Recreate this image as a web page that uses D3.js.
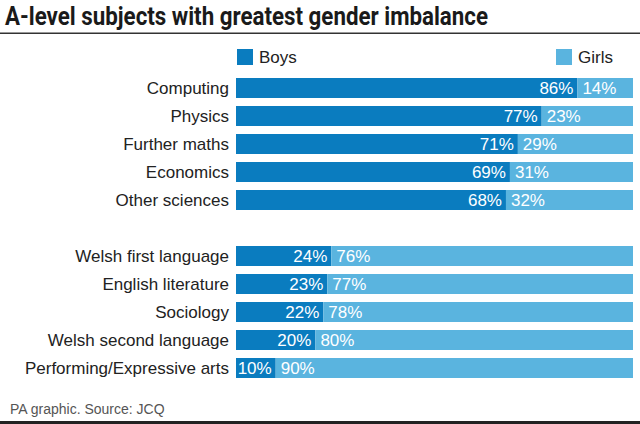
<!DOCTYPE html>
<html>
<head>
<meta charset="utf-8">
<script src="https://cdn.jsdelivr.net/npm/d3@7"></script>
<style>
  html, body { margin: 0; padding: 0; background: #fff; }
  svg { display: block; }
  text { font-family: "Liberation Sans", Arial, sans-serif; }
</style>
</head>
<body>
<svg id="chart" width="640" height="424"></svg>
<script>
// ---- data ----
const categories = [
  "Computing", "Physics", "Further maths", "Economics", "Other sciences",
  "",
  "Welsh first language", "English literature", "Sociology",
  "Welsh second language", "Performing/Expressive arts"
];
const boys  = [86, 77, 71, 69, 68, null, 24, 23, 22, 20, 10];
const girls = [14, 23, 29, 31, 32, null, 76, 77, 78, 80, 90];
const seriesNames = ["Boys", "Girls"];
const titleText = "A-level subjects with greatest gender imbalance";
const sourceText = "PA graphic. Source: JCQ";

// ---- setup ----
const W = 640, H = 424;
const colors = { Boys: "#0a7cbf", Girls: "#5ab4df" };
const svg = d3.select("#chart");

const rows = categories.map((c, i) => ({ key: "r" + i, label: c, boys: boys[i], girls: girls[i] }));

const x = d3.scaleLinear().domain([0, 100]).range([236, 633]);
const y = d3.scaleBand().domain(rows.map(d => d.key)).range([74, 74 + 11 * 28])
  .paddingInner(8 / 28).paddingOuter(4 / 28);

// title
svg.append("text").attr("x", 5).attr("y", 25)
  .attr("font-size", 25).attr("font-weight", 700).attr("fill", "#1a1a1a")
  .attr("textLength", 483).attr("lengthAdjust", "spacingAndGlyphs")
  .style("font-family", "Roboto, 'Liberation Sans', sans-serif")
  .text(titleText);
svg.append("rect").attr("x", 0).attr("y", 32.5).attr("width", W).attr("height", 1.5).attr("fill", "#333");

// legend
const legendX = { Boys: 237, Girls: 556 };
seriesNames.forEach(s => {
  svg.append("rect").attr("x", legendX[s]).attr("y", 49).attr("width", 16).attr("height", 16).attr("fill", colors[s]);
  svg.append("text").attr("x", legendX[s] + 22).attr("y", 63)
    .attr("font-size", 17).attr("fill", "#222").text(s);
});

const data = rows.filter(d => d.boys != null);

// category labels
svg.append("g").selectAll("text").data(data).join("text")
  .attr("x", 229).attr("y", d => y(d.key) + y.bandwidth() / 2)
  .attr("dy", "0.35em").attr("text-anchor", "end")
  .attr("font-size", 17).attr("fill", "#222")
  .text(d => d.label);

// bars
const g = svg.append("g");
g.selectAll("rect.boys").data(data).join("rect").attr("class", "boys")
  .attr("x", x(0)).attr("y", d => y(d.key))
  .attr("width", d => x(d.boys) - x(0)).attr("height", y.bandwidth())
  .attr("fill", colors.Boys);
g.selectAll("rect.girls").data(data).join("rect").attr("class", "girls")
  .attr("x", d => x(d.boys)).attr("y", d => y(d.key))
  .attr("width", d => x(d.boys + d.girls) - x(d.boys)).attr("height", y.bandwidth())
  .attr("fill", colors.Girls);

// value labels
g.selectAll("text.bl").data(data).join("text").attr("class", "bl")
  .attr("x", d => x(d.boys) - 4).attr("y", d => y(d.key) + y.bandwidth() / 2)
  .attr("dy", "0.36em").attr("text-anchor", "end")
  .attr("font-size", 17).attr("fill", "#fff").text(d => d.boys + "%");
g.selectAll("text.gl").data(data).join("text").attr("class", "gl")
  .attr("x", d => x(d.boys) + 5).attr("y", d => y(d.key) + y.bandwidth() / 2)
  .attr("dy", "0.36em").attr("text-anchor", "start")
  .attr("font-size", 17).attr("fill", "#fff").text(d => d.girls + "%");

// footer
svg.append("text").attr("x", 10).attr("y", 414)
  .attr("font-size", 14).attr("fill", "#555").text(sourceText);
svg.append("rect").attr("x", 0).attr("y", 421).attr("width", W).attr("height", 3).attr("fill", "#222");
</script>
</body>
</html>
